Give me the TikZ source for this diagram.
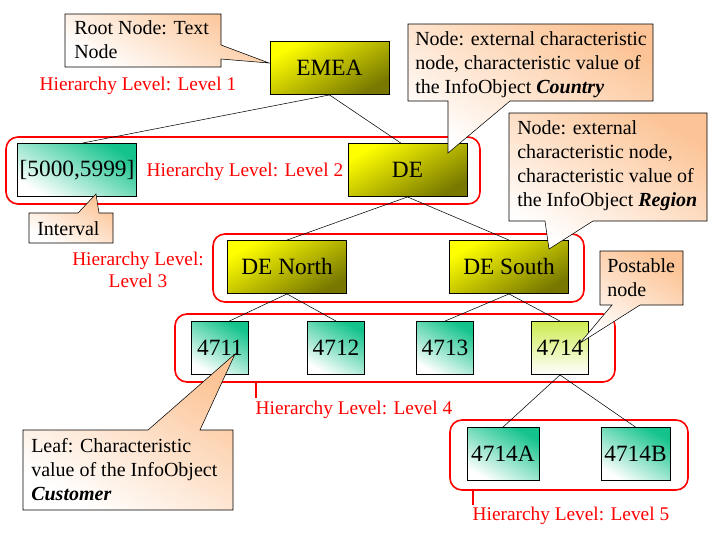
\documentclass[tikz,border=0pt]{standalone}
\usepackage{fontspec}
\setmainfont{Liberation Serif}
\usepackage{xcolor}
\definecolor{peach}{RGB}{252,196,150}
\definecolor{darkolive}{RGB}{120,120,0}
\definecolor{seagreen}{RGB}{20,195,140}
\definecolor{lime}{RGB}{205,235,80}

\tikzset{
  yellowbox/.style={draw, thin, minimum width=89pt, minimum height=40pt, top color=yellow, bottom color=darkolive, shading angle=30, font=\fontsize{17.5}{20}\selectfont},
  greenbox/.style={draw, thin, minimum width=43pt, minimum height=40pt, top color=seagreen, bottom color=white, shading angle=-30, font=\fontsize{17.5}{20}\selectfont, inner sep=1pt},
  level/.style={draw=red, line width=1.2pt, rounded corners=9pt},
  lvltext/.style={red, font=\fontsize{14.5}{17}\selectfont},
  callout/.style={draw, thin, top color=peach, bottom color=white, shading angle=-30},
  calltext/.style={align=left, anchor=north west, font=\fontsize{15}{18}\selectfont, inner sep=0pt},
}

\begin{document}
\begin{tikzpicture}[x=0.75pt, y=-0.75pt]
\useasboundingbox (0,0) rectangle (720,540);

% Level frames
\draw[level] (6,137) rectangle (480,204);
\draw[level] (213,234) rectangle (584,302);
\draw[level] (175,314) rectangle (615,382);
\draw[level] (450,420) rectangle (688,490);

% Tree nodes
\node[yellowbox] (emea) at (329.5,68) {EMEA};
\node[yellowbox] (de) at (407.5,170) {DE};
\node[greenbox, minimum width=89pt] (interval) at (77,170) {[5000,5999]};
\node[yellowbox] (north) at (287,267) {DE North};
\node[yellowbox] (south) at (509,267) {DE South};
\node[greenbox] (c4711) at (220,348) {4711};
\node[greenbox] (c4712) at (336,348) {4712};
\node[greenbox] (c4713) at (445,348) {4713};
\node[greenbox, top color=lime] (c4714) at (560,348) {4714};
\node[greenbox, minimum width=54pt] (c4714a) at (503,454) {4714A};
\node[greenbox, minimum width=52pt] (c4714b) at (635.5,454) {4714B};

% Connectors
\draw (emea.south) -- ([xshift=4pt]interval.north);
\draw (emea.south) -- ([xshift=-5pt]de.north);
\draw (de.south) -- (north.north);
\draw (de.south) -- (south.north);
\draw (north.south) -- ([xshift=7pt]c4711.north);
\draw (north.south) -- (c4712.north);
\draw (south.south) -- (c4713.north);
\draw (south.south) -- (c4714.north);
\draw (c4714.south) -- (c4714a.north);
\draw (c4714.south) -- (c4714b.north);

% Level labels
\node[lvltext, anchor=west] (lvl1) at (35,86) {Hierarchy Level: Level 1};
\node[lvltext, anchor=west] (lvl2) at (142,172) {Hierarchy Level: Level 2};
\node[lvltext, align=center] (lvl3) at (138,270) {Hierarchy Level:\\Level 3};
\node[lvltext, anchor=west] (lvl4) at (251,410) {Hierarchy Level: Level 4};
\node[lvltext, anchor=west] (lvl5) at (468,516) {Hierarchy Level: Level 5};
\draw[red, line width=1.2pt] (256,382) -- (256,398);
\draw[red, line width=1.2pt] (473,490) -- (473,505);

% Callouts
\draw[callout] (65,14) -- (221,14) -- (221,45) -- (269,63) -- (221,59) -- (221,67) -- (65,67) -- cycle;
\node[calltext] (root) at (74,20) {Root Node: Text\\Node};

\draw[callout] (408,24) -- (653,24) -- (653,101) -- (510,101) -- (448,153) -- (448,101) -- (408,101) -- cycle;
\node[calltext] (country) at (415,31) {Node: external characteristic\\node, characteristic value of\\the InfoObject \textbf{\textit{Country}}};

\draw[callout] (509,113) -- (707,113) -- (707,221) -- (593,221) -- (549,249) -- (545,221) -- (509,221) -- cycle;
\node[calltext] (region) at (517,120) {Node: external\\characteristic node,\\characteristic value of\\the InfoObject \textbf{\textit{Region}}};

\draw[callout] (600,251) -- (683,251) -- (683,305) -- (640,305) -- (580,343) -- (612,305) -- (600,305) -- cycle;
\node[calltext] (postable) at (607,258) {Postable\\node};

\draw[callout] (29,213) -- (78,213) -- (96,194) -- (99,213) -- (113,213) -- (113,243) -- (29,243) -- cycle;
\node[calltext] (intv) at (37,221) {Interval};

\draw[callout] (23,430) -- (148,430) -- (235,354) -- (200,430) -- (233,430) -- (233,510) -- (23,510) -- cycle;
\node[calltext] (leaf) at (31,438) {Leaf: Characteristic\\value of the InfoObject\\\textbf{\textit{Customer}}};
\end{tikzpicture}
\end{document}
